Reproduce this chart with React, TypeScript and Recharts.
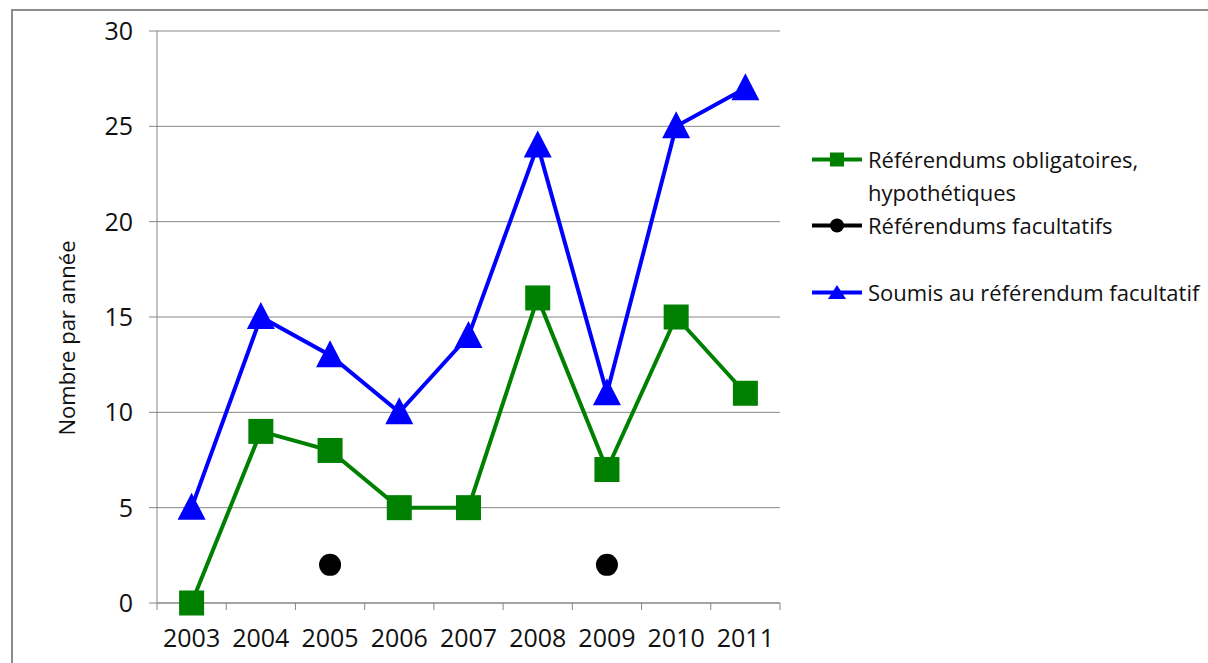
import { LineChart, Line, XAxis, YAxis, CartesianGrid, Legend } from 'recharts'

const years = ['2003', '2004', '2005', '2006', '2007', '2008', '2009', '2010', '2011']
const obligatoires = [0, 9, 8, 5, 5, 16, 7, 15, 11]
const facultatifs = [null, null, 2, null, null, null, 2, null, null]
const soumis = [5, 15, 13, 10, 14, 24, 11, 25, 27]
const yTicks = [0, 5, 10, 15, 20, 25, 30]

const nameObligatoires = 'Référendums obligatoires, hypothétiques'
const nameFacultatifs = 'Référendums facultatifs'
const nameSoumis = 'Soumis au référendum facultatif'
const yTitle = 'Nombre par année'

const data = years.map((year, i) => ({
    year,
    obligatoires: obligatoires[i],
    facultatifs: facultatifs[i],
    soumis: soumis[i],
}))

const GREEN = '#008000'
const BLUE = '#0000ff'
const BLACK = '#000000'
const GRID = '#868686'
const FONT = '"Open Sans", sans-serif'

const W = 1208
const H = 663
const M = { top: 31, right: 428, bottom: 0, left: 0 }
const Y_AXIS_W = 157
const X_AXIS_H = 60
const PLOT_W = W - M.left - M.right - Y_AXIS_W
const HALF_BAND = PLOT_W / years.length / 2

function SquareDot(props: any) {
    const { cx, cy, index } = props
    if (cx == null || cy == null) return <g key={`s${index}`} />
    return <rect key={`s${index}`} x={cx - 12.5} y={cy - 12.5} width={25} height={25} fill={GREEN} />
}

function CircleDot(props: any) {
    const { cx, cy, index, value } = props
    if (cx == null || cy == null || value == null) return <g key={`c${index}`} />
    return <circle key={`c${index}`} cx={cx} cy={cy} r={11} fill={BLACK} />
}

function TriangleDot(props: any) {
    const { cx, cy, index } = props
    if (cx == null || cy == null) return <g key={`t${index}`} />
    return (
        <polygon
            key={`t${index}`}
            points={`${cx},${cy - 15} ${cx + 14},${cy + 12} ${cx - 14},${cy + 12}`}
            fill={BLUE}
        />
    )
}

// year label plus a tick mark on the category boundaries
function YearTick(props: any) {
    const { x, y, payload, index } = props
    const axisY = y - 15
    return (
        <g>
            {index === 0 && (
                <line x1={x - HALF_BAND} x2={x - HALF_BAND} y1={axisY} y2={axisY + 7} stroke={GRID} />
            )}
            <line x1={x + HALF_BAND} x2={x + HALF_BAND} y1={axisY} y2={axisY + 7} stroke={GRID} />
            <text x={x} y={y + 29} textAnchor="middle" fontSize={25} fontFamily={FONT} fill="#111">
                {payload.value}
            </text>
        </g>
    )
}

function LegendIcon({ kind, color }: { kind: string; color: string }) {
    return (
        <svg width={50} height={33} style={{ flex: 'none' }}>
            <line x1={0} x2={50} y1={16.5} y2={16.5} stroke={color} strokeWidth={4} />
            {kind === 'square' && <rect x={18} y={9.5} width={14} height={14} fill={color} />}
            {kind === 'circle' && <circle cx={25} cy={16.5} r={7} fill={color} />}
            {kind === 'triangle' && (
                <polygon points="25,9 34,23 16,23" fill={color} />
            )}
        </svg>
    )
}

function ChartLegend() {
    const row = { display: 'flex', alignItems: 'flex-start', lineHeight: '33px' }
    const text = { marginLeft: 6, fontSize: 22, fontFamily: FONT, color: '#111' }
    return (
        <div>
            <div style={row}>
                <LegendIcon kind="square" color={GREEN} />
                <span style={{ ...text, width: 290 }}>{nameObligatoires}</span>
            </div>
            <div style={{ ...row, marginBottom: 34 }}>
                <LegendIcon kind="circle" color={BLACK} />
                <span style={{ ...text, whiteSpace: 'nowrap' }}>{nameFacultatifs}</span>
            </div>
            <div style={row}>
                <LegendIcon kind="triangle" color={BLUE} />
                <span style={{ ...text, whiteSpace: 'nowrap' }}>{nameSoumis}</span>
            </div>
        </div>
    )
}

export default function App() {
    return (
        <div style={{ position: 'relative', width: W, height: H, overflow: 'hidden', background: '#fff' }}>
            <style>{'body { margin: 0; overflow: hidden; }'}</style>
            <div
                style={{
                    position: 'absolute',
                    left: 11,
                    top: 9,
                    width: 1300,
                    height: 700,
                    borderLeft: '2px solid #8c8c8c',
                    borderTop: '2px solid #8c8c8c',
                }}
            />
            <LineChart width={W} height={H} data={data} margin={M}>
                <CartesianGrid vertical={false} stroke={GRID} />
                <XAxis
                    dataKey="year"
                    scale="band"
                    height={X_AXIS_H}
                    axisLine={{ stroke: GRID }}
                    tickLine={false}
                    tickSize={7}
                    tickMargin={8}
                    interval={0}
                    tick={<YearTick />}
                />
                <YAxis
                    width={Y_AXIS_W}
                    domain={[0, 30]}
                    ticks={yTicks}
                    interval={0}
                    axisLine={{ stroke: GRID }}
                    tickLine={{ stroke: GRID }}
                    tickSize={8}
                    tickMargin={16}
                    tick={{ fontSize: 25, fontFamily: FONT, fill: '#111' }}
                    label={{
                        content: ({ viewBox }: any) => (
                            <text
                                x={viewBox.x + 66}
                                y={viewBox.y + viewBox.height / 2 + 21}
                                transform={`rotate(-90 ${viewBox.x + 66} ${viewBox.y + viewBox.height / 2 + 21})`}
                                textAnchor="middle"
                                dominantBaseline="central"
                                fontSize={22}
                                fontFamily={FONT}
                                fill="#111"
                            >
                                {yTitle}
                            </text>
                        ),
                    }}
                />
                <Legend
                    layout="vertical"
                    align="center"
                    verticalAlign="middle"
                    wrapperStyle={{ left: 812, top: 143, width: 400 }}
                    content={<ChartLegend />}
                />
                <Line
                    dataKey="obligatoires"
                    name={nameObligatoires}
                    stroke={GREEN}
                    strokeWidth={4}
                    dot={<SquareDot />}
                    activeDot={false}
                    isAnimationActive={false}
                />
                <Line
                    dataKey="facultatifs"
                    name={nameFacultatifs}
                    stroke={BLACK}
                    strokeWidth={4}
                    dot={<CircleDot />}
                    activeDot={false}
                    connectNulls={false}
                    isAnimationActive={false}
                />
                <Line
                    dataKey="soumis"
                    name={nameSoumis}
                    stroke={BLUE}
                    strokeWidth={4}
                    dot={<TriangleDot />}
                    activeDot={false}
                    isAnimationActive={false}
                />
            </LineChart>
        </div>
    )
}
